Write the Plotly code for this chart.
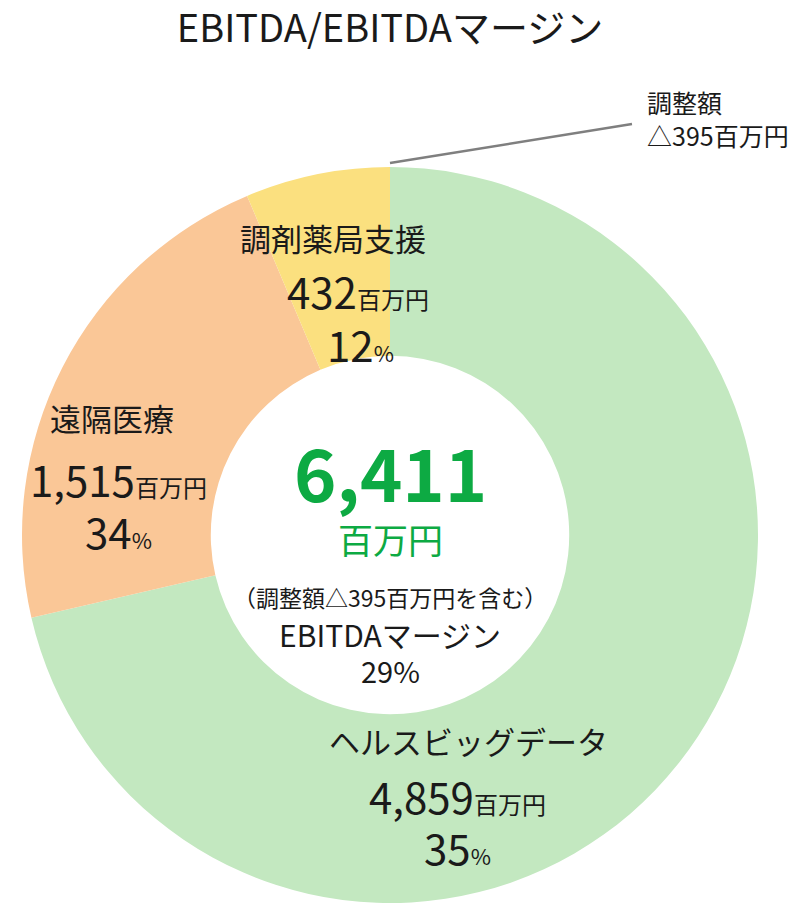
import plotly.graph_objects as go

# segment data, clockwise from 12 o'clock
segments = ["ヘルスビッグデータ", "遠隔医療", "調剤薬局支援"]
ebitda = [4859, 1515, 432]          # 百万円
margins = [35, 34, 12]              # %
colors = ["#C3E8C0", "#FAC797", "#FBE07F"]

adjustment = -395
total_ebitda = 6411
total_margin = 29

W, H = 805, 903
OFF = 8   # page body margin
FONT = "Noto Sans CJK JP"


def px(x, y):
    # page pixel position -> paper coords
    return (x - OFF) / W, 1 - (y - OFF) / H


# donut centre / radius in page pixels
cx, cy, r = 390, 535, 368
dx0, dy0 = px(cx - r, cy + r)
dx1, dy1 = px(cx + r, cy - r)

fig = go.Figure()
fig.add_trace(go.Pie(
    labels=segments, values=ebitda, marker=dict(colors=colors, line=dict(width=0)),
    hole=0.487, sort=False, direction="clockwise", rotation=0,
    textinfo="none", hoverinfo="label+value", showlegend=False,
    domain=dict(x=[dx0, dx1], y=[dy0, dy1]),
))

ann = []


def label(x, y, text, size, color="#1a1a1a", **kw):
    ax, ay = px(x, y)
    ann.append(dict(x=ax, y=ay, xref="paper", yref="paper", text=text, showarrow=False,
                    font=dict(size=size, color=color, family=FONT), xanchor="center",
                    yanchor="middle", **kw))


small = "<span style='font-size:24px'>%s</span>"
# segment labels
label_pos = [(468, 740, 458, 795, 458, 846),
             (112, 417, 118, 478, 118, 530),
             (333, 237, 358, 290, 360, 343)]
for name, v, m, p in zip(segments, ebitda, margins, label_pos):
    label(p[0], p[1], name, 31)
    label(p[2], p[3], f"{v:,}" + small % "百万円", 42)
    label(p[4], p[5], f"{m}" + "<span style='font-size:22px'>%</span>", 42)

# centre
label(390, 470, f"<b>{total_ebitda:,}</b>", 72, color="#0DAA43")
label(390, 538, "百万円", 35, color="#0DAA43")
label(390, 597, f"（調整額△{abs(adjustment)}百万円を含む）", 23)
label(390, 634, "EBITDAマージン", 30)
label(390, 670, f"{total_margin}%", 29)

# adjustment call-out
ax, ay = px(645, 118)
ann.append(dict(x=ax, y=ay, xref="paper", yref="paper",
                text=f"調整額<br>△{abs(adjustment)}百万円", showarrow=False, align="left",
                font=dict(size=25, color="#1a1a1a", family=FONT),
                xanchor="left", yanchor="middle"))
x0, y0 = px(390, 163)
x1, y1 = px(632, 124)
fig.add_shape(type="line", xref="paper", yref="paper", x0=x0, y0=y0, x1=x1, y1=y1,
              line=dict(color="#7f7f7f", width=2.5))

tx, ty = px(390, 29)
fig.update_layout(
    width=W, height=H, margin=dict(l=0, r=0, t=0, b=0),
    paper_bgcolor="white", plot_bgcolor="white",
    title=dict(text="EBITDA/EBITDAマージン", x=tx, xanchor="center", y=ty,
               yanchor="middle", font=dict(size=38, color="#1a1a1a", family=FONT)),
    annotations=ann,
)

fig.write_html("out.html")
